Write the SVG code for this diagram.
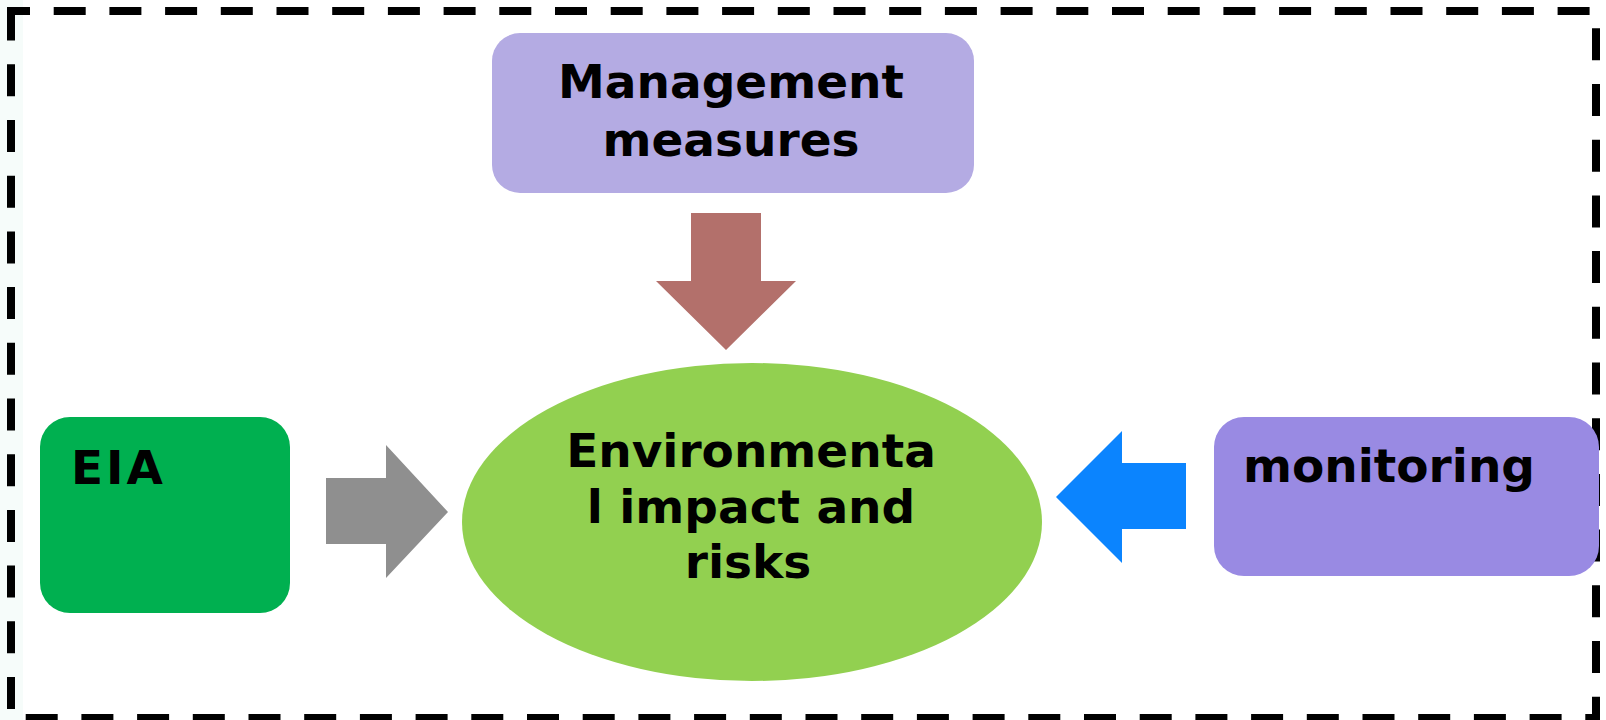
<svg xmlns="http://www.w3.org/2000/svg" width="1606" height="720" viewBox="0 0 1606 720">
  <style>
    .lbl { font-family: "DejaVu Sans", "Liberation Sans", sans-serif; font-weight: bold; font-size: 47px; fill: #000000; }
    .mid { text-anchor: middle; }
  </style>
  <rect x="0" y="0" width="1606" height="720" fill="#ffffff"/>
  <rect x="0" y="0" width="23" height="720" fill="#f6fcfa"/>
  <g id="frame">
    <rect x="11" y="11" width="1585" height="707" fill="none" stroke="#000000" stroke-width="8" stroke-dasharray="32 23.7" stroke-dashoffset="13"/>
  </g>
  <g id="connectors">
    <polygon id="arrow-mgmt" points="691,213 761,213 761,281 796,281 726,350 656,281 691,281" fill="#b3706b"/>
    <polygon id="arrow-eia" points="326,478 386,478 386,445 448,512 386,578 386,544 326,544" fill="#8f8f8f"/>
    <polygon id="arrow-mon" points="1186,463 1122,463 1122,431 1056,497 1122,563 1122,529 1186,529" fill="#0b84fe"/>
  </g>
  <g id="node-management">
    <rect x="492" y="33" width="482" height="160" rx="28" fill="#b4abe3"/>
    <text class="lbl mid" x="731" y="98">Management</text>
    <text class="lbl mid" x="731" y="156">measures</text>
  </g>
  <g id="node-impact">
    <ellipse cx="752" cy="522" rx="290" ry="159" fill="#92d050"/>
    <text class="lbl mid" x="751" y="467">Environmenta</text>
    <text class="lbl mid" x="751" y="523">l impact and</text>
    <text class="lbl mid" x="748" y="578">risks</text>
  </g>
  <g id="node-eia">
    <rect x="40" y="417" width="250" height="196" rx="30" fill="#00b050"/>
    <text class="lbl" x="71" y="484" letter-spacing="3">EIA</text>
  </g>
  <g id="node-monitoring">
    <rect x="1214" y="417" width="385" height="159" rx="30" fill="#998ae3"/>
    <text class="lbl" x="1243" y="482">monitoring</text>
  </g>
</svg>
